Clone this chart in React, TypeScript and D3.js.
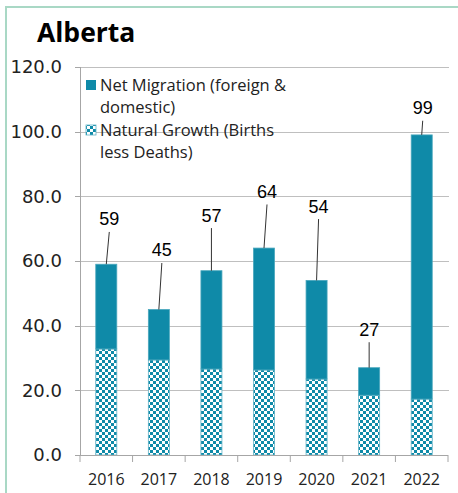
import React from "react";
import * as d3 from "d3";

const years = ["2016", "2017", "2018", "2019", "2020", "2021", "2022"];
const naturalGrowth = [32.8, 29.4, 26.6, 26.3, 23.5, 18.5, 17.3];
const netMigration = [26.2, 15.6, 30.4, 37.7, 30.5, 8.5, 81.7];
const yTicks = [0, 20, 40, 60, 80, 100, 120];
const legendNet = ["Net Migration (foreign &", "domestic)"];
const legendNatural = ["Natural Growth (Births", "less Deaths)"];

// label placement (data-unit height of label centre, px shift)
const labelLevel = [73, 63.4, 74.2, 81.5, 77, 38.9, 107.4];
const labelShift = [3, 3, 0, 3, 2, 0, 1];

const W = 458;
const H = 493;
const TEAL = "#0f8aa8";

export default function App() {
  const x = d3.scaleBand<string>().domain(years).range([80, 448]).paddingInner(0.6).paddingOuter(0.3);
  const band = d3.scaleBand<string>().domain(years).range([80, 448]);
  const y = d3.scaleLinear().domain([0, 120]).range([455, 67]);
  const fmt = d3.format(".1f");
  const stacked = years.map((yr, i) => ({ yr, nat: naturalGrowth[i], net: netMigration[i] }));

  return (
    <div style={{ position: "absolute", left: 0, top: 0 }}>
      <svg width={W} height={H} style={{ display: "block" }}>
        <defs>
          <pattern id="checker" width={6} height={6} patternUnits="userSpaceOnUse">
            <rect width={6} height={6} fill="#ffffff" />
            <rect x={0} y={0} width={3} height={3} fill={TEAL} />
            <rect x={3} y={3} width={3} height={3} fill={TEAL} />
          </pattern>
        </defs>
        <rect width={W} height={H} fill="#ffffff" />
        <line x1={6} x2={W} y1={7} y2={7} stroke="#a9d8c5" strokeWidth={2} />
        <line x1={6} x2={6} y1={6} y2={H} stroke="#a9d8c5" strokeWidth={2} />

        <text x={37} y={42} fontFamily="'Open Sans', sans-serif" fontWeight={700} fontSize={26.5} fill="#000">
          Alberta
        </text>

        {/* gridlines */}
        {yTicks.filter((t) => t > 0).map((t) => (
          <line key={t} x1={80} x2={449} y1={Math.round(y(t)) + 0.5} y2={Math.round(y(t)) + 0.5} stroke="#bfbfbf" strokeWidth={1} />
        ))}
        {/* y axis */}
        <line x1={80.5} x2={80.5} y1={y(120)} y2={y(0)} stroke="#a6a6a6" />
        {yTicks.map((t) => (
          <g key={t}>
            <line x1={75} x2={80} y1={Math.round(y(t)) + 0.5} y2={Math.round(y(t)) + 0.5} stroke="#a6a6a6" />
            <text x={62} y={y(t)} dy="0.36em" textAnchor="end" fontFamily="'DejaVu Sans', sans-serif" fontSize={18} fill="#222">
              {fmt(t)}
            </text>
          </g>
        ))}

        {/* bars */}
        {stacked.map((d) => (
          <g key={d.yr}>
            <rect x={x(d.yr)} y={y(d.nat)} width={x.bandwidth()} height={y(0) - y(d.nat)} fill="url(#checker)" stroke="#5fb2c6" strokeWidth={0.8} />
            <rect x={x(d.yr)} y={y(d.nat + d.net)} width={x.bandwidth()} height={y(d.nat) - y(d.nat + d.net)} fill={TEAL} stroke="#4aa7bd" strokeWidth={0.8} />
          </g>
        ))}

        {/* x axis */}
        <line x1={80} x2={448} y1={455.5} y2={455.5} stroke="#a6a6a6" />
        {years.concat(["end"]).map((yr, i) => {
          const xx = 80 + i * band.bandwidth();
          return <line key={yr} x1={xx} x2={xx} y1={455} y2={462} stroke="#a6a6a6" />;
        })}
        {years.map((yr) => (
          <text key={yr} x={(x(yr) as number) + x.bandwidth() / 2} y={479} dy="0.36em" textAnchor="middle" fontFamily="'Open Sans', sans-serif" fontSize={16} fill="#222">
            {yr}
          </text>
        ))}

        {/* data labels with leader lines */}
        {stacked.map((d, i) => {
          const cx = (x(d.yr) as number) + x.bandwidth() / 2;
          const lx = cx + labelShift[i];
          const ly = y(labelLevel[i]);
          const top = y(d.nat + d.net);
          return (
            <g key={d.yr}>
              <line x1={lx} y1={ly + 13} x2={cx} y2={top} stroke="#333" strokeWidth={1} />
              <text x={lx} y={ly} dy="0.36em" textAnchor="middle" fontFamily="'Liberation Sans', Arial, sans-serif" fontSize={18} fill="#000">
                {Math.round(d.nat + d.net)}
              </text>
            </g>
          );
        })}

        {/* legend */}
        <rect x={86} y={80} width={10} height={10} fill={TEAL} />
        <rect x={86} y={125} width={10} height={10} fill="url(#checker)" stroke="#5fb2c6" strokeWidth={0.8} />
        {legendNet.map((s, i) => (
          <text key={s} x={100} y={85 + i * 22} dy="0.36em" fontFamily="'Open Sans', sans-serif" fontSize={16.5} fill="#222">
            {s}
          </text>
        ))}
        {legendNatural.map((s, i) => (
          <text key={s} x={100} y={130 + i * 22} dy="0.36em" fontFamily="'Open Sans', sans-serif" fontSize={16.5} fill="#222">
            {s}
          </text>
        ))}
      </svg>
    </div>
  );
}
